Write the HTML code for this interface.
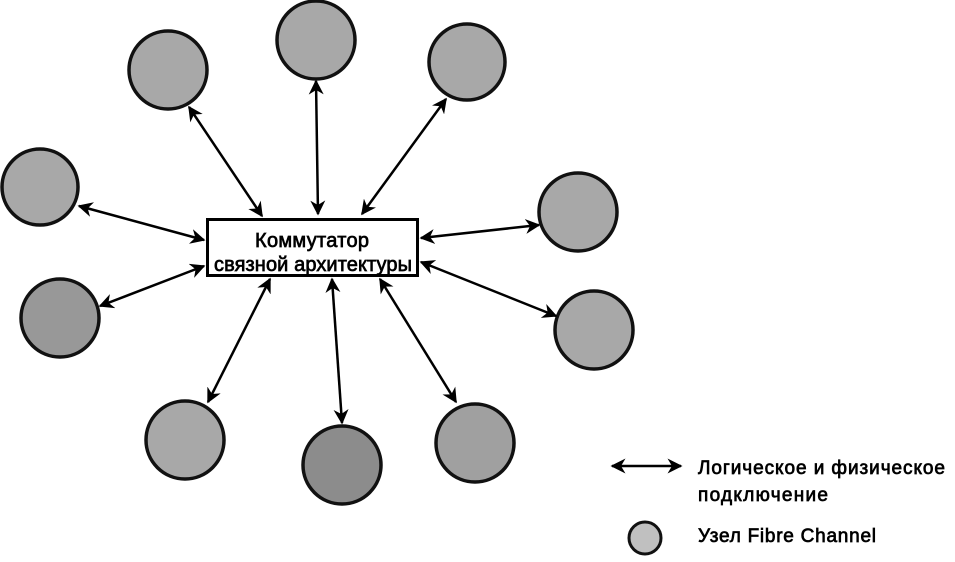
<!DOCTYPE html>
<html><head><meta charset="utf-8"><style>
html,body{margin:0;padding:0;background:#fff;}
svg{display:block;}
text{font-family:"Liberation Sans",sans-serif;fill:#000;stroke:#000;stroke-width:0.7;}
</style></head><body>
<svg width="955" height="562" viewBox="0 0 955 562" xmlns="http://www.w3.org/2000/svg">
<defs>
<marker id="a" viewBox="0 0 10 10" refX="9" refY="5" markerWidth="6" markerHeight="6" orient="auto-start-reverse" markerUnits="strokeWidth">
<path d="M0,0 L10,5 L0,10 L3,5 Z" fill="#000"/>
</marker>
</defs>
<g stroke="#111" stroke-width="3.5">
<circle cx="168" cy="70" r="39" fill="#a8a8a8"/>
<circle cx="316" cy="40" r="39" fill="#a8a8a8"/>
<circle cx="467" cy="62" r="38" fill="#a8a8a8"/>
<circle cx="40" cy="187" r="38" fill="#a8a8a8"/>
<circle cx="578" cy="212" r="39" fill="#a8a8a8"/>
<circle cx="60" cy="318" r="39" fill="#989898"/>
<circle cx="594" cy="330" r="39" fill="#a8a8a8"/>
<circle cx="185" cy="440" r="39" fill="#a8a8a8"/>
<circle cx="342" cy="465" r="39" fill="#8c8c8c"/>
<circle cx="475" cy="443" r="39" fill="#a0a0a0"/>
<circle cx="645" cy="538" r="16" fill="#c0c0c0" stroke-width="3"/>
</g>
<g stroke="#000" stroke-width="2.5" fill="none" marker-start="url(#a)" marker-end="url(#a)">
<line x1="189" y1="107" x2="262" y2="216"/>
<line x1="316" y1="81" x2="318" y2="214"/>
<line x1="446" y1="99" x2="362" y2="214"/>
<line x1="79" y1="206" x2="204" y2="240"/>
<line x1="100" y1="306" x2="204" y2="266"/>
<line x1="208" y1="402" x2="270" y2="279"/>
<line x1="342" y1="423" x2="332" y2="279"/>
<line x1="456" y1="402" x2="380" y2="279"/>
<line x1="539" y1="225" x2="421" y2="238"/>
<line x1="556" y1="316" x2="421" y2="262"/>
<line x1="612" y1="466" x2="681" y2="466"/>
</g>
<rect x="207.5" y="219.5" width="210" height="56" fill="#fff" stroke="#000" stroke-width="3"/>
<text x="312" y="247" font-size="20" text-anchor="middle" textLength="114">Коммутатор</text>
<text x="313" y="271" font-size="20" text-anchor="middle" textLength="198">связной архитектуры</text>
<text x="698" y="474" font-size="19" textLength="247">Логическое и физическое</text>
<text x="698" y="501" font-size="19" textLength="130">подключение</text>
<text x="698" y="542" font-size="19" textLength="178">Узел Fibre Channel</text>
</svg>
</body></html>
